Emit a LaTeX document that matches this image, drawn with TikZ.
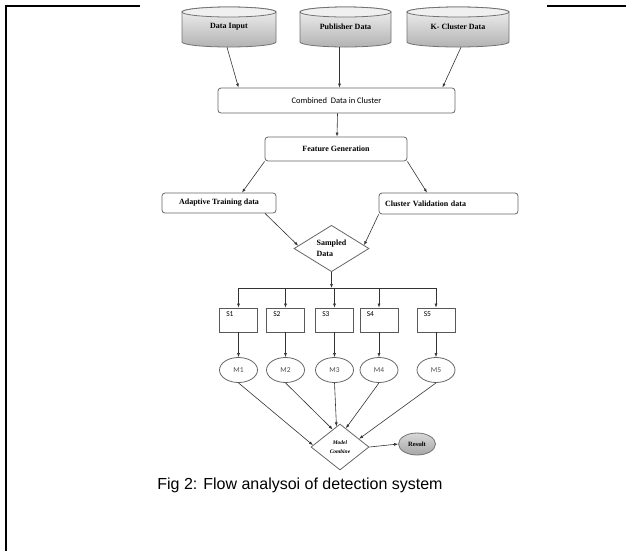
\documentclass[tikz,border=0pt]{standalone}
\usepackage{fontspec}
\setmainfont{Liberation Serif}
\newfontfamily\calfont{Carlito}
\newfontfamily\capfont{Liberation Sans}
\usetikzlibrary{shapes.geometric,arrows.meta,calc}

% database drum between x = #1 and x = #2 (top at 7, bottom at 47)
\newcommand\dbdrum[2]{%
  \path[draw=black!55, line width=0.8pt, top color=gray!10, bottom color=gray!60]
    (#1,12) -- (#1,42) arc[start angle=180, end angle=0, x radius={(#2-#1)/2}, y radius=5]
    -- (#2,12) arc[start angle=0, end angle=-180, x radius={(#2-#1)/2}, y radius=5] -- cycle;
  \path[draw=black!55, line width=0.8pt, fill=gray!12]
    ({(#1+#2)/2},12) ellipse [x radius={(#2-#1)/2}, y radius=5];
}

\begin{document}
\begin{tikzpicture}[x=1pt, y=-1pt,
  conn/.style={draw=black!80, line width=0.6pt, -{Latex[length=4pt,width=3pt]}},
  plain/.style={draw=black!80, line width=0.6pt},
  dbtxt/.style={inner sep=0pt, minimum height=40pt, font=\bfseries\fontsize{8}{9}\selectfont},
  rbox/.style={draw=black!60, line width=0.8pt, rounded corners=3pt, inner sep=0pt,
               font=\bfseries\fontsize{8}{9}\selectfont},
  sbox/.style={draw=black!65, line width=0.8pt, minimum width=38pt, minimum height=24pt, inner sep=0pt},
  mell/.style={ellipse, draw=black!60, line width=0.8pt, minimum width=38pt, minimum height=25pt,
               inner sep=0pt, font=\calfont\fontsize{7.5}{8}\selectfont, text=black!70},
  dia/.style={diamond, draw=black!60, line width=0.8pt, inner sep=0pt}
]
\useasboundingbox (0,0) rectangle (626,550);

% page frame pieces
\draw[line width=2pt] (140,6) -- (6,6) -- (6,551);
\draw[line width=2pt] (547,6) -- (627,6);

% data sources
\dbdrum{182}{276}
\dbdrum{300}{391}
\dbdrum{407}{509}
\node[dbtxt, minimum width=94pt]  (din) at (229,27)   {Data Input};
\node[dbtxt, minimum width=91pt]  (pub) at (345.5,27) {Publisher Data};
\node[dbtxt, minimum width=102pt] (kcl) at (458,27)   {K- Cluster Data};

% combined data and features
\node[rbox, minimum width=237pt, minimum height=25pt, font=\calfont\fontsize{8.5}{9}\selectfont]
  (comb) at (336.5,100.5) {Combined\ \ Data in Cluster};
\node[rbox, minimum width=142pt, minimum height=24pt] (feat) at (336,149) {Feature Generation};
\node[rbox, minimum width=114pt, minimum height=20pt] (adapt) at (219,203) {Adaptive Training data};
\node[rbox, minimum width=139pt, minimum height=21pt, text width=127pt, align=left]
  (cval) at (448.5,203.5) {Cluster Validation data};

\draw[conn] ([xshift=-2pt]din.south) -- ([xshift=-98pt]comb.north);
\draw[conn] ([xshift=-6pt]pub.south) -- ([xshift=3pt]comb.north);
\draw[conn] ([xshift=3pt]kcl.south) -- ([xshift=106pt]comb.north);
\draw[conn] ([xshift=1pt]comb.south) -- ([xshift=1pt]feat.north);
\draw[conn] (feat.south west) -- ([xshift=23pt]adapt.north);
\draw[conn] (feat.south east) -- ([xshift=-21.5pt]cval.north);

% sampling
\node[dia, minimum width=75pt, minimum height=43pt, align=left,
      font=\bfseries\fontsize{8}{11}\selectfont] (samp) at (331.5,248.5) {Sampled\\Data};
\draw[conn] ([xshift=46pt]adapt.south) -- ($(samp.west)!0.12!(samp.north)$);
\draw[conn] (cval.south west) -- ($(samp.east)!0.14!(samp.north)$);

\coordinate (busc) at (331.5,288);
\draw[conn] (samp.south) -- (busc);

% subsets and models
\foreach \n/\x in {1/238.5, 2/285.5, 3/334.5, 4/379, 5/436} {
  \node[sbox, label={[anchor=north west, xshift=6pt, yshift=-3pt, inner sep=1pt,
        font=\calfont\fontsize{7.5}{8}\selectfont]north west:S\n}] (s\n) at (\x,320) {};
  \node[mell] (m\n) at (\x,370) {M\n};
  \draw[conn] (s\n.north |- busc) -- (s\n.north);
  \draw[conn] (s\n.south) -- (m\n.north);
}
\draw[plain] (s1.north |- busc) -- (s5.north |- busc);

% combination
\node[dia, minimum width=58pt, minimum height=46pt, align=center,
      font=\bfseries\itshape\fontsize{5.5}{9}\selectfont] (mc) at (340,447) {Model\\Combine};
\node[ellipse, draw=black!55, line width=0.8pt, minimum width=37pt, minimum height=22pt, inner sep=0pt,
      top color=gray!30, bottom color=gray!70, font=\bfseries\fontsize{6.5}{7}\selectfont]
  (res) at (417,444) {Result};

\draw[conn] (m1.south) -- ($(mc.west)!0.08!(mc.north)$);
\draw[conn] (m2.south) -- ($(mc.north)!0.25!(mc.west)$);
\draw[conn] (m3.south) -- ($(mc.north)!0.12!(mc.west)$);
\draw[conn] (m4.south) -- ($(mc.north)!0.2!(mc.east)$);
\draw[conn] (m5.south) -- ($(mc.north)!0.65!(mc.east)$);
\draw[conn] (mc.east) -- (res.west);

% caption
\node[font=\capfont\fontsize{16}{18}\selectfont, inner sep=0pt] (cap) at (300,485)
  {Fig 2: Flow analysoi of detection system};
\end{tikzpicture}
\end{document}
